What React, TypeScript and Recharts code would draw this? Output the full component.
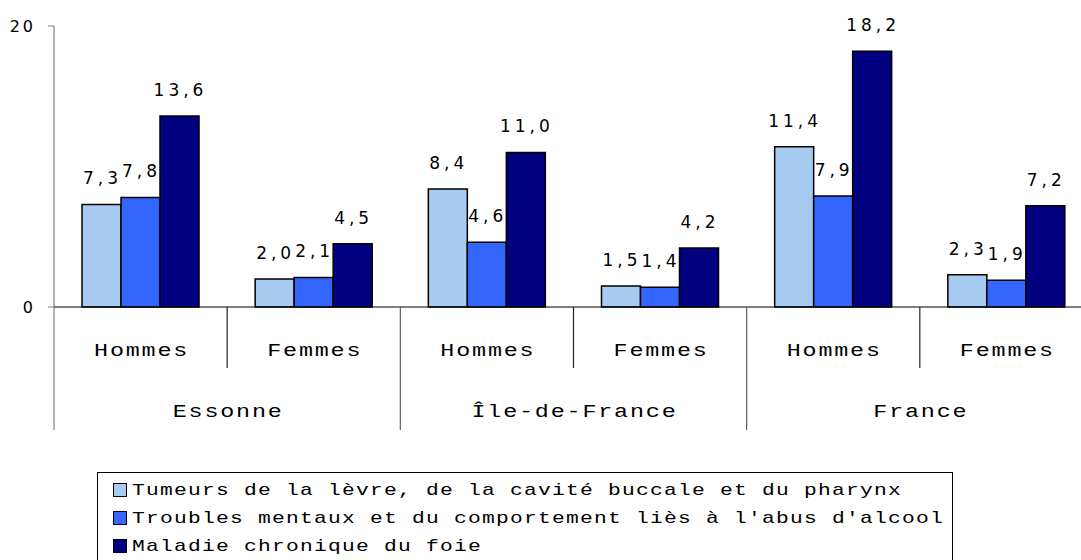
import React from "react";
import { Bar, BarChart, LabelList, XAxis, YAxis } from "recharts";

const sexes = ["Hommes", "Femmes", "Hommes", "Femmes", "Hommes", "Femmes"];
const regions = ["Essonne", "Essonne", "Île-de-France", "Île-de-France", "France", "France"];
const tumeurs = [7.3, 2.0, 8.4, 1.5, 11.4, 2.3];
const troubles = [7.8, 2.1, 4.6, 1.4, 7.9, 1.9];
const foie = [13.6, 4.5, 11.0, 4.2, 18.2, 7.2];
const yTicks = [0, 20];

const series = [
  { key: "tumeurs", name: "Tumeurs de la lèvre, de la cavité buccale et du pharynx", color: "#A6CAF0" },
  { key: "troubles", name: "Troubles mentaux et du comportement liès à l'abus d'alcool", color: "#3366FF" },
  { key: "foie", name: "Maladie chronique du foie", color: "#000080" },
];

const data = sexes.map((s, i) => ({
  sex: s,
  region: regions[i],
  tumeurs: tumeurs[i],
  troubles: troubles[i],
  foie: foie[i],
}));

const W = 1100;
const H = 560;
const M = { top: 26, right: 7, bottom: 130, left: 0 };
const Y_W = 54;
const X_H = 123;
const BAND = (W - M.left - M.right - Y_W) / data.length;
const AXIS_Y = H - M.bottom - X_H;

const mono = "'Liberation Mono', 'DejaVu Sans Mono', monospace";
const sans = "'DejaVu Sans', Verdana, sans-serif";

const fmt = (v: number) => v.toFixed(1).replace(".", ",");

// stretched monospace text, like the original wide Courier
const WideText = ({ x, y, children }: { x: number; y: number; children: React.ReactNode }) => (
  <text
    transform={`translate(${x},${y}) scale(1.3,1)`}
    x={0}
    y={0}
    textAnchor="middle"
    fontFamily={mono}
    fontSize={18}
    letterSpacing={1.4}
    fill="#000"
  >
    {children}
  </text>
);

const CategoryTick = (props: any) => {
  const { x, index, payload } = props;
  const right = x + BAND / 2;
  const left = x - BAND / 2;
  const regionEnd = index % 2 === 1;
  return (
    <g>
      {index === 0 && (
        <line x1={left} x2={left} y1={AXIS_Y} y2={AXIS_Y + 123} stroke="#808080" strokeWidth={1.2} />
      )}
      <line
        x1={right}
        x2={right}
        y1={AXIS_Y}
        y2={regionEnd ? AXIS_Y + 123 : AXIS_Y + 61}
        stroke={regionEnd ? "#606060" : "#222"}
        strokeWidth={1.2}
      />
      <WideText x={x + 1} y={AXIS_Y + 49}>
        {payload.value}
      </WideText>
      {index % 2 === 0 && (
        <WideText x={right + 1} y={AXIS_Y + 110}>
          {regions[index]}
        </WideText>
      )}
    </g>
  );
};

const ValueLabel = (props: any) => {
  const { x, y, width, value } = props;
  return (
    <text
      x={x + width / 2 + 1}
      y={y - 20}
      textAnchor="middle"
      fontFamily={sans}
      fontSize={17}
      letterSpacing={4}
      fill="#000"
    >
      {fmt(value)}
    </text>
  );
};

const App = () => {
  return (
    <div
      style={{
        position: "absolute",
        left: 0,
        top: 0,
        width: 1081,
        height: 560,
        overflow: "hidden",
        background: "#fff",
      }}
    >
      <BarChart width={W} height={H} data={data} margin={M} barCategoryGap={28} barGap={0}>
        <YAxis
          width={Y_W}
          domain={[0, 20]}
          ticks={yTicks}
          axisLine={{ stroke: "#808080", strokeWidth: 1.2 }}
          tickLine={{ stroke: "#808080" }}
          tickSize={6}
          tickMargin={12}
          tick={{ fontFamily: sans, fontSize: 16, letterSpacing: 3, fill: "#000" }}
        />
        <XAxis
          dataKey="sex"
          height={X_H}
          axisLine={{ stroke: "#000", strokeWidth: 1.2 }}
          tickLine={false}
          interval={0}
          tick={<CategoryTick />}
        />
        {series.map((s) => (
          <Bar
            key={s.key}
            dataKey={s.key}
            name={s.name}
            fill={s.color}
            stroke="#000"
            strokeWidth={1.5}
            isAnimationActive={false}
          >
            <LabelList dataKey={s.key} content={<ValueLabel />} />
          </Bar>
        ))}
      </BarChart>
      <div
        style={{
          position: "absolute",
          left: 97,
          top: 472,
          width: 856,
          height: 110,
          border: "1px solid #000",
          boxSizing: "border-box",
          paddingLeft: 15,
          paddingTop: 3,
        }}
      >
        {series.map((s) => (
          <div
            key={s.key}
            style={{
              display: "flex",
              alignItems: "center",
              height: 28,
              whiteSpace: "nowrap",
            }}
          >
            <span
              style={{
                display: "inline-block",
                width: 12,
                height: 12,
                background: s.color,
                border: "1.5px solid #000",
                marginRight: 5,
                flexShrink: 0,
              }}
            />
            <span
              style={{
                display: "inline-block",
                fontFamily: mono,
                fontSize: 17,
                letterSpacing: 1,
                color: "#000",
                transform: "scaleX(1.25)",
                transformOrigin: "left center",
              }}
            >
              {s.name}
            </span>
          </div>
        ))}
      </div>
    </div>
  );
};

export default App;
